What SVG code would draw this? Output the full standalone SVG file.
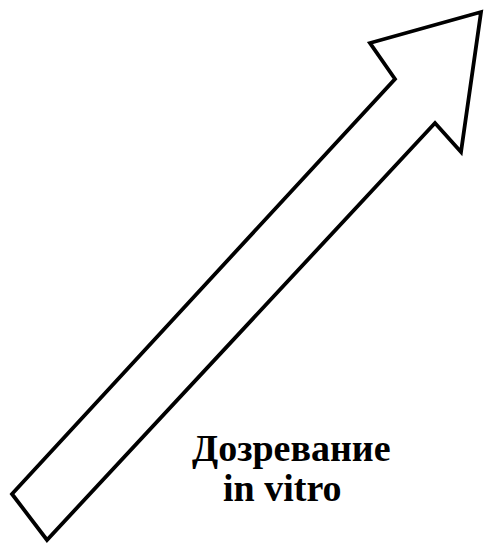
<svg xmlns="http://www.w3.org/2000/svg" width="485" height="543" viewBox="0 0 485 543">
<style>
.arrow{fill:#ffffff;stroke:#000000;stroke-width:3.8;stroke-linejoin:miter}
.lbl{font-family:"Liberation Serif","Times New Roman",serif;font-weight:bold;font-size:38px;fill:#000000}
</style>
<rect width="485" height="543" fill="#ffffff"/>
<g id="arrow">
<polygon class="arrow" points="12,494 395,79 370,43 481,12 461,152 435,123 47,540"/>
</g>
<g id="label">
<text class="lbl" x="192" y="461">Дозревание</text>
<text class="lbl" x="223" y="501">in vitro</text>
</g>
</svg>
